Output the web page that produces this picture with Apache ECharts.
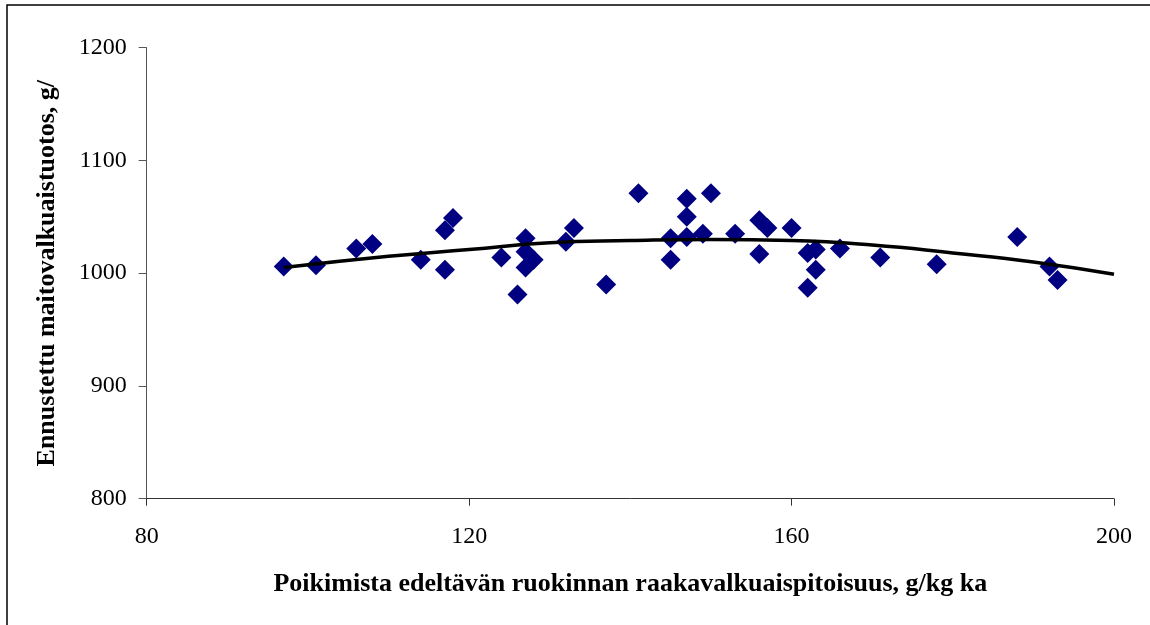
<!DOCTYPE html>
<html>
<head>
<meta charset="utf-8">
<script src="https://cdn.jsdelivr.net/npm/echarts@6/dist/echarts.min.js"></script>
<style>
html,body{margin:0;padding:0;background:#fff;}
#chart{width:1150px;height:625px;}
</style>
</head>
<body>
<div id="chart"></div>
<script>
// Observed data points: [crude protein g/kg DM, predicted milk protein yield]
const protein = [97, 101, 106, 108, 114, 117, 118, 117, 124, 126, 127, 127, 127, 128, 132, 133, 137, 141, 145, 145, 147, 147, 147, 149, 150, 153, 156, 157, 156, 160, 162, 163, 163, 162, 166, 171, 178, 188, 192, 193];
const yieldVals = [1006, 1007, 1022, 1026, 1012, 1038, 1049, 1003, 1014, 981, 1031, 1019, 1005, 1012, 1028, 1040, 990, 1071, 1031, 1012, 1066, 1050, 1032, 1035, 1071, 1035, 1047, 1040, 1017, 1040, 1018, 1021, 1003, 987, 1022, 1014, 1008, 1032, 1006, 994];
// Trend line
const trendX = [97, 110, 120, 130, 140, 150, 160, 170, 180, 190, 200];
const trendY = [1005, 1015, 1021, 1027, 1029, 1030, 1029, 1025, 1018, 1010, 999];
const xTicks = [80, 120, 160, 200];
const yTicks = [800, 900, 1000, 1100, 1200];
const xTitle = 'Poikimista edeltävän ruokinnan raakavalkuaispitoisuus, g/kg ka';
const yTitle = 'Ennustettu maitovalkuaistuotos, g/';

const scatterData = protein.map((x, i) => [x, yieldVals[i]]);
const trendData = trendX.map((x, i) => [x, trendY[i]]);

const chart = echarts.init(document.getElementById('chart'));
const font = '"Liberation Serif", "Times New Roman", serif';
chart.setOption({
  backgroundColor: '#fff',
  animation: false,
  textStyle: { fontFamily: font },
  graphic: [{
    type: 'rect',
    shape: { x: 7, y: 5, width: 1200, height: 700 },
    style: { fill: 'none', stroke: '#000', lineWidth: 1.5 },
    silent: true,
    z: -1
  }],
  grid: { left: 146.7, right: 1150 - 1114, top: 47.7, bottom: 625 - 498.7, containLabel: false },
  xAxis: {
    type: 'value',
    min: xTicks[0], max: xTicks[xTicks.length - 1], interval: 40,
    name: xTitle,
    nameLocation: 'middle',
    nameGap: 73,
    nameTextStyle: { fontFamily: font, fontWeight: 'bold', fontSize: 26, color: '#000' },
    axisLine: { show: true, lineStyle: { color: '#333', width: 1 } },
    axisTick: { show: true, inside: false, length: 7, lineStyle: { color: '#333' } },
    axisLabel: { fontFamily: font, fontSize: 24, color: '#000', margin: 26, formatter: v => String(v) },
    splitLine: { show: false }
  },
  yAxis: {
    type: 'value',
    min: yTicks[0], max: yTicks[yTicks.length - 1], interval: 100,
    name: yTitle,
    nameLocation: 'middle',
    nameGap: 86,
    nameRotate: 90,
    nameTextStyle: { fontFamily: font, fontWeight: 'bold', fontSize: 26, color: '#000' },
    axisLine: { show: true, lineStyle: { color: '#555', width: 1 } },
    axisTick: { show: true, inside: false, length: 8, lineStyle: { color: '#555' } },
    axisLabel: { fontFamily: font, fontSize: 24, color: '#000', margin: 20, formatter: v => String(v) },
    splitLine: { show: false }
  },
  series: [
    {
      type: 'scatter',
      data: scatterData,
      symbol: 'diamond',
      symbolSize: [20, 20],
      itemStyle: { color: '#000080', opacity: 1 },
      z: 2
    },
    {
      type: 'line',
      data: trendData,
      smooth: true,
      showSymbol: false,
      symbol: 'none',
      lineStyle: { color: '#000', width: 3.5 },
      z: 3
    }
  ]
});
</script>
</body>
</html>
